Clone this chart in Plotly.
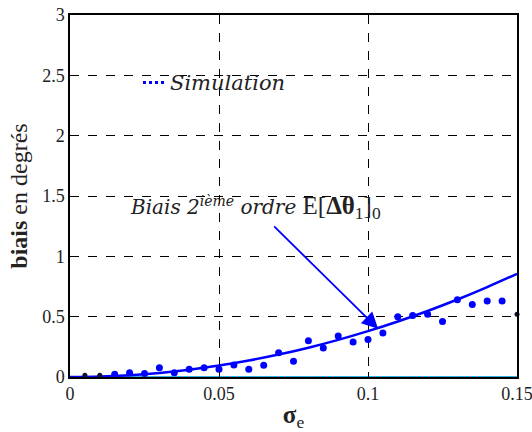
import plotly.graph_objects as go

# Simulation points (sigma_e, bias in degrees)
sim_x = [0.015, 0.02, 0.025, 0.03, 0.035, 0.04, 0.045, 0.05, 0.055, 0.06,
         0.065, 0.07, 0.075, 0.08, 0.085, 0.09, 0.095, 0.1, 0.105, 0.11,
         0.115, 0.12, 0.125, 0.13, 0.135, 0.14, 0.145]
sim_y = [0.022, 0.036, 0.03, 0.077, 0.036, 0.064, 0.077, 0.064, 0.10, 0.064,
         0.097, 0.20, 0.13, 0.30, 0.24, 0.34, 0.29, 0.31, 0.365, 0.50,
         0.51, 0.52, 0.46, 0.64, 0.60, 0.63, 0.63]
edge_x = [0.005, 0.01, 0.15]
edge_y = [0.014, 0.014, 0.52]

# Second-order bias curve
curve_x = [0, 0.01, 0.02, 0.03, 0.04, 0.05, 0.06, 0.07, 0.08, 0.09, 0.10,
           0.11, 0.12, 0.13, 0.14, 0.15]
curve_y = [0, 0.004, 0.015, 0.034, 0.061, 0.095, 0.137, 0.186, 0.243, 0.308,
           0.38, 0.46, 0.547, 0.642, 0.745, 0.855]

zero_x = [0, 0.15]
zero_y = [0, 0]

x_ticks = [0, 0.05, 0.1, 0.15]
x_tick_text = ["0", "0.05", "0.1", "0.15"]
y_ticks = [0, 0.5, 1, 1.5, 2, 2.5, 3]
y_tick_text = ["0", "0.5", "1", "1.5", "2", "2.5", "3"]

FONT = "Liberation Serif"
ITAL = "DejaVu Serif"

fig = go.Figure()
fig.add_trace(go.Scatter(x=zero_x, y=zero_y, mode="lines",
                         line=dict(color="#6A8CF0", width=2), showlegend=False,
                         cliponaxis=False))
fig.add_trace(go.Scatter(x=zero_x, y=zero_y, mode="lines",
                         line=dict(color="#00D0D0", width=2, dash="dot"),
                         showlegend=False, cliponaxis=False))
fig.add_trace(go.Scatter(x=curve_x, y=curve_y, mode="lines", line_shape="spline",
                         line=dict(color="#0000FF", width=2.5), showlegend=False))
fig.add_trace(go.Scatter(x=sim_x, y=sim_y, mode="markers",
                         marker=dict(color="#0000FF", size=7), showlegend=False))
fig.add_trace(go.Scatter(x=edge_x, y=edge_y, mode="markers",
                         marker=dict(color="#101030", size=5), showlegend=False,
                         cliponaxis=False))

# Legend entry
fig.add_shape(type="line", x0=0.0245, x1=0.0322, y0=2.44, y1=2.44, xref="x", yref="y",
              line=dict(color="#0000FF", width=3, dash="dot"))
fig.add_annotation(x=0.0329, y=2.44, xref="x", yref="y", text="<i>Simulation</i>",
                   showarrow=False, xanchor="left", yanchor="middle",
                   font=dict(family=ITAL, size=21, color="#222222"))

# Curve label with arrow
fig.add_annotation(x=0.1034, y=0.40, ax=0.068, ay=1.26, xref="x", yref="y",
                   axref="x", ayref="y", text="", showarrow=True,
                   arrowhead=2, arrowsize=1.8, arrowwidth=1.8, arrowcolor="#0000FF")
fig.add_annotation(x=0.0196, y=1.405, xref="x", yref="y",
                   text=("<span style='font-family:DejaVu Serif;font-size:20px'>"
                         "<i>Biais 2<sup>ième</sup> ordre</i></span>"
                         " E[<b>Δθ</b><sub>1</sub>]<sub>0</sub>"),
                   showarrow=False, xanchor="left", yanchor="middle",
                   font=dict(family=FONT, size=25, color="#222222"))

fig.update_xaxes(range=[0, 0.15], tickvals=x_ticks, ticktext=x_tick_text,
                 showline=True, linecolor="black", linewidth=1.5, mirror=True,
                 showgrid=True, gridcolor="black", gridwidth=1, griddash="dash",
                 ticks="inside", ticklen=5, tickcolor="black", zeroline=False,
                 ticklabeloverflow="allow", automargin=False,
                 tickfont=dict(family=FONT, size=18, color="#222222"),
                 title=dict(text="<b>σ</b><sub>e</sub>", standoff=8,
                            font=dict(family=FONT, size=25, color="#222222")))
fig.update_yaxes(range=[0, 3], tickvals=y_ticks, ticktext=y_tick_text,
                 showline=True, linecolor="black", linewidth=1.5, mirror=True,
                 showgrid=True, gridcolor="black", gridwidth=1, griddash="dash",
                 ticks="inside", ticklen=5, tickcolor="black", zeroline=False,
                 ticklabeloverflow="allow", automargin=False,
                 tickfont=dict(family=FONT, size=18, color="#222222"),
                 title=dict(text="<b>biais</b> en degrés", standoff=8,
                            font=dict(family=FONT, size=24, color="#222222")))

fig.update_layout(width=532, height=432, margin=dict(l=70, r=15, t=15, b=55),
                  paper_bgcolor="white", plot_bgcolor="white", showlegend=False)

fig.write_html("out.html")
